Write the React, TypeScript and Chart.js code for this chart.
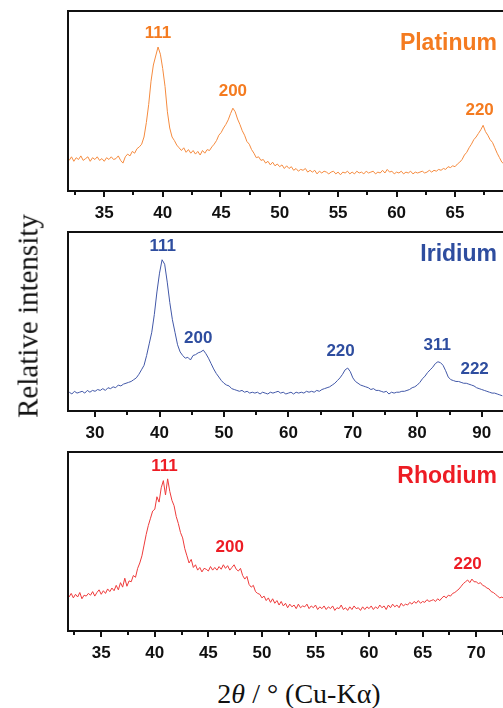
import React, { useEffect, useRef } from 'react';
import { Chart, registerables } from 'chart.js';

Chart.register(...registerables);

// ---------- Platinum ----------
const ptStart = 32.0;
const ptStep = 0.2;
const ptIntensity = [
  17, 19, 16.5, 18.5, 17.5, 19.5, 17, 18, 19, 16.5,
  18.5, 17.5, 19, 17, 18, 16.5, 18.5, 17.5, 19, 17.5,
  18, 19.5, 17, 15.5, 19, 20.5, 19.5, 22, 21, 23.5,
  24.5, 26, 30, 38, 48, 61, 70, 75, 80, 76,
  68, 58, 44, 35, 30, 28, 25.5, 24, 22.5, 24,
  21.5, 23, 21, 22.5, 20.5, 22, 20, 22.5, 21, 23,
  22.5, 24.5, 26, 28, 31, 32.5, 35, 37, 39.5, 43,
  46, 44, 40, 37, 33.5, 31, 27.5, 26, 23, 21,
  18.5, 19, 17, 17.5, 15.5, 16.5, 14.5, 16, 14, 15,
  13.5, 14.5, 12.5, 14, 12.5, 13.5, 11.5, 12.5, 11, 12,
  11.5, 12.5, 10.5, 11.5, 10.5, 11.5, 9.5, 11, 10, 11,
  10.5, 9.5, 10.5, 11, 9.5, 10.5, 9, 10.5, 10, 11,
  9.5, 10.5, 9.5, 11, 10, 10.5, 9.5, 11, 10, 10.5,
  11, 9.5, 10.5, 10, 11.5, 10, 12, 10.5, 11, 9.5,
  10.5, 10, 11, 9.5, 10.5, 10, 11, 9.5, 10.5, 10,
  10.5, 11, 10, 10.5, 11.5, 10.5, 11.5, 11, 12, 11.5,
  12.5, 12, 13.5, 13, 14, 13.5, 15, 16, 17.5, 20,
  21.5, 24, 26, 28.5, 30, 32, 34, 36.5, 33, 31,
  28.5, 27, 24, 21, 18.5, 16, 15,
];
const ptPeakLabels = ['111', '200', '220'];
const ptPeakX = [39.6, 46.0, 67.1];
const ptPeakY = [87.8, 55.5, 45];

// ---------- Iridium ----------
const irStart = 26.0;
const irStep = 0.4;
const irIntensity = [
  10.5, 9.5, 11, 10, 10.5,
  11, 10, 11.5, 10.5, 11.5,
  11, 12, 11.5, 12.5, 11.5,
  13, 12.5, 13.5, 13, 14.5,
  14, 15, 15.5, 16, 16.5,
  17.5, 18.5, 20.5, 23, 25.5,
  31, 37.5, 44, 54, 66.5,
  77, 84.5, 82, 72, 60.5,
  51, 44, 37, 33, 31,
  29.5, 30, 28.5, 31, 31.5,
  32.5, 33, 34, 32, 29.5,
  26.5, 23.5, 21, 19, 17,
  15.5, 14.5, 14, 12.5, 12,
  11.5, 11, 11.5, 10.5, 11,
  10, 10.5, 10, 10.5, 9.5,
  10.5, 10, 9.5, 10.5, 10,
  10.5, 11, 10, 10.5, 9.5,
  10, 10.5, 9.5, 10.5, 10,
  10.5, 10, 11, 10.5, 11,
  10.5, 11.5, 11, 12, 12.5,
  13, 13.5, 14.5, 15.5, 17,
  18.5, 20.5, 23, 24, 22,
  18.5, 16.5, 15.5, 14.5, 14,
  13.5, 13, 12, 12.5, 11.5,
  11.5, 11, 10.5, 11, 9.5,
  10.5, 10, 10.5, 10.5, 11,
  11, 11.5, 12, 13, 13.5,
  14.5, 16, 18, 19.5, 21.5,
  23, 24.5, 26.5, 27.5, 27,
  25.5, 22.5, 19, 17.5, 17,
  16.5, 16.5, 16, 15.5, 15.5,
  15, 14.5, 14, 13, 12.5,
  12, 11.5, 11, 10.5, 10,
  10, 9.5, 9, 8.5,
];
const irPeakLabels = ['111', '200', '220', '311', '222'];
const irPeakX = [40.5, 46.0, 68.1, 83.1, 88.9];
const irPeakY = [91.8, 40.6, 33.1, 36.9, 23.3];

// ---------- Rhodium ----------
const rhStart = 32.0;
const rhStep = 0.2;
const rhIntensity = [
  19, 21, 18.5, 20.5, 19, 21.5, 18, 20, 19.5, 21,
  20, 22, 19.5, 21.5, 23, 20.5, 22.5, 21, 23.5, 22,
  24, 22.5, 25.5, 23, 27, 24.5, 29.5, 25, 28, 27.5,
  31, 30, 35, 38, 42, 48, 54, 59, 63, 67,
  68, 75, 72, 80, 84, 76, 85, 78, 73, 70,
  64, 60, 55, 52, 46, 42, 38, 40, 35.5, 37,
  34, 35.5, 33, 35, 34.5, 33.5, 36, 34, 35.5, 34,
  36, 34.5, 37, 35, 36.5, 34, 35.5, 37, 34.5, 33.5,
  35, 31, 29, 30.5, 26, 24.5, 25.5, 22, 21, 20.5,
  18.5, 19.5, 17, 18.5, 16, 18, 15.5, 17, 14.5, 16.5,
  14, 15.5, 13, 15, 13.5, 14.5, 12.5, 15, 13, 14,
  13.5, 15, 12.5, 14, 13, 14.5, 12, 13.5, 12.5, 14,
  12, 13.5, 12.5, 14, 11.5, 13, 12.5, 14.5, 12, 13,
  11.5, 13.5, 12, 14, 12.5, 13, 11.5, 13.5, 12, 13.5,
  12.5, 14, 12, 13.5, 12.5, 14.5, 13, 14, 12, 14.5,
  13, 15, 13.5, 14.5, 13, 15.5, 14, 15, 14.5, 16,
  15, 16.5, 15.5, 17, 15.5, 16.5, 16, 17.5, 16.5, 17,
  17.5, 16.5, 18, 17, 18.5, 19.5, 18.5, 20, 19.5, 21,
  21.5, 22.5, 23.5, 25, 26.5, 27.5, 28.5, 27, 29, 27.5,
  27.5, 26.5, 27, 25.5, 25, 24, 23.5, 22, 21.5, 20.5,
  19.5, 18.5, 19, 18,
];
const rhPeakLabels = ['111', '200', '220'];
const rhPeakX = [40.9, 47.0, 69.2];
const rhPeakY = [92, 46.7, 37.2];

const SANS = '"Liberation Sans", Arial, sans-serif';
const SERIF = '"Liberation Serif", "Times New Roman", serif';

type PanelProps = {
  top: number;
  height: number;
  start: number;
  step: number;
  values: number[];
  xMin: number;
  xMax: number;
  minorStep: number;
  majorStep: number;
  lineColor: string;
  textColor: string;
  name: string;
  nameY: number;
  peakLabels: string[];
  peakX: number[];
  peakY: number[];
};

function Panel(p: PanelProps) {
  const ref = useRef<HTMLCanvasElement | null>(null);
  useEffect(() => {
    if (!ref.current) return;
    const pts = p.values.map((v, i) => ({ x: +(p.start + i * p.step).toFixed(3), y: v }));
    const isMajor = (v: number) => Math.abs(v / p.majorStep - Math.round(v / p.majorStep)) < 1e-6;
    const decor = {
      id: 'decor',
      afterDatasetsDraw(chart: any) {
        const { ctx, chartArea: a, scales } = chart;
        const xs = scales.x;
        const ys = scales.y;
        ctx.save();
        ctx.strokeStyle = '#111';
        ctx.lineWidth = 2;
        ctx.beginPath();
        ctx.moveTo(a.right + 2, a.top);
        ctx.lineTo(a.left, a.top);
        ctx.lineTo(a.left, a.bottom);
        ctx.lineTo(a.right + 2, a.bottom);
        ctx.stroke();
        xs.ticks.forEach((t: any) => {
          const px = xs.getPixelForValue(t.value);
          if (px < a.left + 1 || px > a.right) return;
          const maj = isMajor(t.value);
          ctx.lineWidth = 2;
          ctx.beginPath();
          ctx.moveTo(Math.round(px), a.bottom);
          ctx.lineTo(Math.round(px), a.bottom + (maj ? 6 : 4));
          ctx.stroke();
        });
        ctx.fillStyle = p.textColor;
        ctx.font = `bold 17px ${SANS}`;
        ctx.textAlign = 'center';
        ctx.textBaseline = 'middle';
        p.peakLabels.forEach((lab, i) => {
          ctx.fillText(lab, xs.getPixelForValue(p.peakX[i]), ys.getPixelForValue(p.peakY[i]));
        });
        ctx.font = `bold 23px ${SANS}`;
        ctx.textAlign = 'right';
        ctx.fillText(p.name, a.right - 6, ys.getPixelForValue(p.nameY));
        ctx.restore();
      },
    };
    const chart = new Chart(ref.current, {
      type: 'line',
      data: {
        datasets: [
          {
            data: pts,
            borderColor: p.lineColor,
            borderWidth: 1,
            pointRadius: 0,
            tension: 0,
            fill: false,
          },
        ],
      },
      options: {
        animation: false,
        responsive: false,
        maintainAspectRatio: false,
        layout: { padding: { top: 11, left: 68, right: 0, bottom: 0 } },
        plugins: { legend: { display: false }, tooltip: { enabled: false }, title: { display: false } },
        scales: {
          x: {
            type: 'linear',
            min: p.xMin,
            max: p.xMax,
            grid: { display: false, drawTicks: false },
            border: { display: false },
            afterFit: (s: any) => {
              s.height = 37;
              s.paddingLeft = 0;
              s.paddingRight = 0;
            },
            ticks: {
              stepSize: p.minorStep,
              includeBounds: false,
              autoSkip: false,
              maxRotation: 0,
              padding: 12,
              color: '#111',
              font: { family: SANS, size: 17, weight: 'bold' },
              callback: (v: any) => (isMajor(Number(v)) ? String(Math.round(Number(v))) : ''),
            },
          },
          y: { display: false, min: 0, max: 100 },
        },
      },
      plugins: [decor],
    } as any);
    return () => chart.destroy();
  }, []);
  return (
    <canvas
      ref={ref}
      width={503}
      height={p.height}
      style={{ position: 'absolute', left: 0, top: p.top, width: 503, height: p.height }}
    />
  );
}

export default function App() {
  return (
    <div style={{ position: 'absolute', left: 0, top: 0, width: 503, height: 708, overflow: 'hidden', background: '#fff' }}>
      <Panel
        top={0}
        height={228}
        start={ptStart}
        step={ptStep}
        values={ptIntensity}
        xMin={31.9}
        xMax={69.1}
        minorStep={2.5}
        majorStep={5}
        lineColor="#F58B3F"
        textColor="#F47B20"
        name="Platinum"
        nameY={82}
        peakLabels={ptPeakLabels}
        peakX={ptPeakX}
        peakY={ptPeakY}
      />
      <Panel
        top={221}
        height={227}
        start={irStart}
        step={irStep}
        values={irIntensity}
        xMin={25.8}
        xMax={93.3}
        minorStep={5}
        majorStep={10}
        lineColor="#4258A8"
        textColor="#2E4D9F"
        name="Iridium"
        nameY={87.5}
        peakLabels={irPeakLabels}
        peakX={irPeakX}
        peakY={irPeakY}
      />
      <Panel
        top={441}
        height={227}
        start={rhStart}
        step={rhStep}
        values={rhIntensity}
        xMin={31.9}
        xMax={72.5}
        minorStep={2.5}
        majorStep={5}
        lineColor="#EE3B3B"
        textColor="#ED1C24"
        name="Rhodium"
        nameY={86}
        peakLabels={rhPeakLabels}
        peakX={rhPeakX}
        peakY={rhPeakY}
      />
      <div
        style={{
          position: 'absolute',
          left: 28,
          top: 316,
          transform: 'translate(-50%, -50%) rotate(-90deg)',
          whiteSpace: 'nowrap',
          fontFamily: SERIF,
          fontSize: 29,
          lineHeight: 1,
          color: '#111',
        }}
      >
        Relative intensity
      </div>
      <div
        style={{
          position: 'absolute',
          left: 299,
          top: 694,
          transform: 'translate(-50%, -50%)',
          whiteSpace: 'nowrap',
          fontFamily: SERIF,
          fontSize: 28,
          lineHeight: 1,
          color: '#111',
        }}
      >
        2<i>θ</i> / ° (Cu-Kα)
      </div>
    </div>
  );
}
